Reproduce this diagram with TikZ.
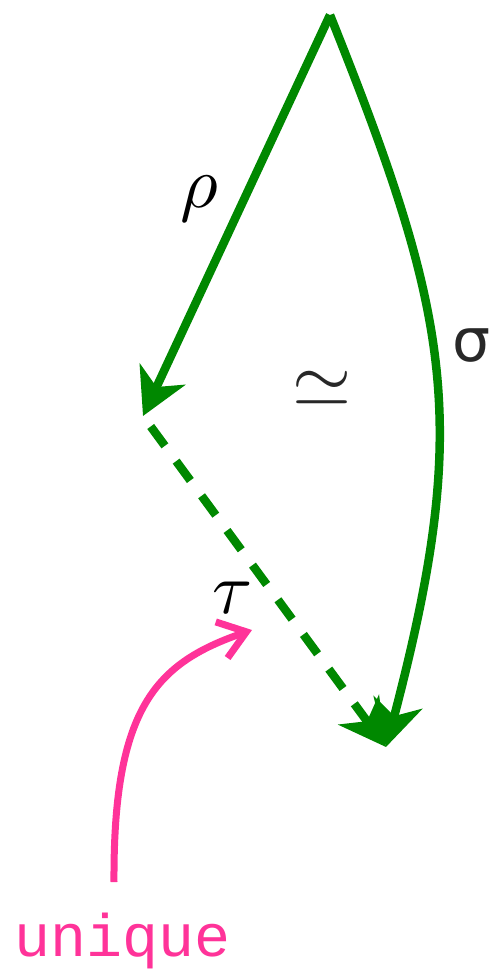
\documentclass[tikz,border=0pt]{standalone}
\usepackage{graphicx}
\usepackage{fontspec}
\usetikzlibrary{arrows.meta,bending}
\newfontfamily\monofnt{Liberation Mono}
\newfontfamily\sansfnt{DejaVu Sans}
\definecolor{arrgreen}{RGB}{0,136,0}
\definecolor{hotpink}{RGB}{255,51,153}
\definecolor{labgray}{RGB}{40,40,40}
\tikzset{
  greenarrow/.style={draw=arrgreen, line width=8.5pt, -{Stealth[length=46pt,width=50pt,inset=14pt]}},
  dasharrow/.style={greenarrow, dash pattern=on 24pt off 19pt},
  pinkarrow/.style={draw=hotpink, line width=7pt, -{Straight Barb[length=26pt,width=38pt]}},
  mathlabel/.style={inner sep=0pt},
  uniquelabel/.style={inner sep=0pt, text=hotpink, font=\fontsize{60}{66}\selectfont\monofnt}
}
\begin{document}
\begin{tikzpicture}[x=1pt,y=-1pt]
\useasboundingbox (0,0) rectangle (493,969);
\coordinate (top) at (330,15);
\coordinate (mid) at (143,416);
\coordinate (bot) at (386,747);
\coordinate (pinkstart) at (114,882);
\coordinate (pinkend) at (252,630);
\draw[greenarrow] (top) -- (mid);
\draw[greenarrow] (top) .. controls (456,330) and (472,430) .. (bot);
\draw[dasharrow, shorten <=13pt] (mid) -- (bot);
\draw[pinkarrow] (pinkstart) .. controls (113,700) and (160,660) .. (pinkend);
\node[mathlabel] (rho) at (199,199) {\scalebox{7.3}{$\rho$}};
\node[mathlabel] (tau) at (233,598) {\scalebox{7.3}{$\tau$}};
\node[mathlabel, text=labgray] (simeq) at (322,389) {\scalebox{7.6}{$\simeq$}};
\node[inner sep=0pt, text=labgray, font=\fontsize{60}{66}\selectfont\sansfnt] (sigma) at (472,346) {σ};
\node[uniquelabel, anchor=base] (unique) at (123,956) {unique};
\end{tikzpicture}
\end{document}
